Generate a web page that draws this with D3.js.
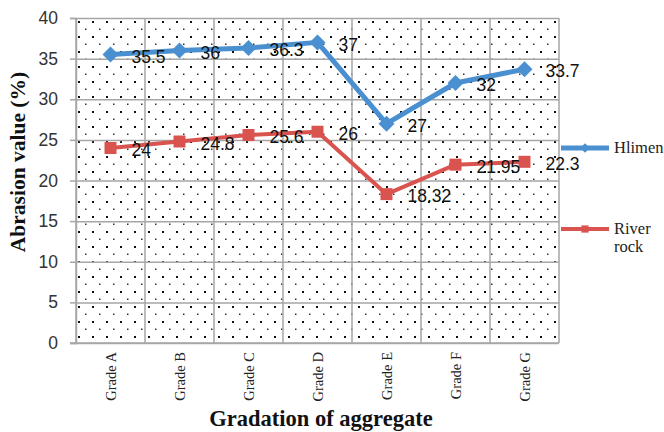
<!DOCTYPE html>
<html>
<head>
<meta charset="utf-8">
<script src="https://cdn.jsdelivr.net/npm/d3@7"></script>
<style>
  html, body { margin: 0; padding: 0; background: #fff; }
  svg { display: block; }
</style>
</head>
<body>
<svg id="chart" width="664" height="432"></svg>
<script>
// Abrasion value by aggregate gradation
const categories = ["Grade A", "Grade B", "Grade C", "Grade D", "Grade E", "Grade F", "Grade G"];
const hlimen = [35.5, 36, 36.3, 37, 27, 32, 33.7];
const riverRock = [24, 24.8, 25.6, 26, 18.32, 21.95, 22.3];
const hlimenLabels = ["35.5", "36", "36.3", "37", "27", "32", "33.7"];
const riverRockLabels = ["24", "24.8", "25.6", "26", "18.32", "21.95", "22.3"];
const yTicks = [0, 5, 10, 15, 20, 25, 30, 35, 40];

const svg = d3.select("#chart");
const plotLeft = 76, plotRight = 559, plotTop = 18, plotBottom = 343;
const serif = "'Liberation Serif', 'Times New Roman', serif";
const sans = "'Liberation Sans', Arial, sans-serif";

const x = d3.scaleBand().domain(categories).range([plotLeft, plotRight]).padding(0);
const y = d3.scaleLinear().domain([0, 40]).range([plotBottom, plotTop]);

// dotted fill pattern for the plot area
const defs = svg.append("defs");
const pat = defs.append("pattern")
  .attr("id", "dots")
  .attr("patternUnits", "userSpaceOnUse")
  .attr("x", plotLeft + 2).attr("y", plotTop + 3)
  .attr("width", 14).attr("height", 15);
pat.append("rect").attr("x", 0).attr("y", 0).attr("width", 14).attr("height", 15).attr("fill", "#fff");
pat.append("rect").attr("x", 0).attr("y", 0).attr("width", 2).attr("height", 2).attr("fill", "#111");
pat.append("rect").attr("x", 7).attr("y", 7.5).attr("width", 1.5).attr("height", 1.5).attr("fill", "#333");

svg.append("rect")
  .attr("x", plotLeft).attr("y", plotTop)
  .attr("width", plotRight - plotLeft).attr("height", plotBottom - plotTop)
  .attr("fill", "url(#dots)");

const gridColor = "#a6a6a6";

// horizontal gridlines
const yGrid = svg.append("g")
  .attr("transform", `translate(${plotLeft},0)`)
  .call(d3.axisLeft(y).tickValues(yTicks).tickSize(-(plotRight - plotLeft)).tickFormat(""));
yGrid.select(".domain").remove();
yGrid.selectAll("line").attr("stroke", gridColor).attr("stroke-width", 1.5);

// vertical gridlines at category boundaries
const bounds = categories.map(c => x(c)).concat([plotRight]);
svg.append("g").selectAll("line").data(bounds).join("line")
  .attr("x1", d => d).attr("x2", d => d)
  .attr("y1", plotTop).attr("y2", plotBottom)
  .attr("stroke", gridColor).attr("stroke-width", 1.5);

// y axis with outside ticks
const yAxis = svg.append("g")
  .attr("transform", `translate(${plotLeft},0)`)
  .call(d3.axisLeft(y).tickValues(yTicks).tickSize(6).tickPadding(12).tickFormat(d3.format("d")));
yAxis.select(".domain").attr("stroke", gridColor).attr("stroke-width", 1.5);
yAxis.selectAll("line").attr("stroke", gridColor).attr("stroke-width", 1.5);
yAxis.selectAll("text")
  .attr("font-family", sans)
  .attr("font-size", 17.5).attr("fill", "#333");

// x axis baseline
svg.append("line")
  .attr("x1", plotLeft - 6).attr("x2", plotRight)
  .attr("y1", plotBottom).attr("y2", plotBottom)
  .attr("stroke", gridColor).attr("stroke-width", 1.5);

// rotated category labels
const xAxis = svg.append("g")
  .attr("transform", `translate(0,${plotBottom})`)
  .call(d3.axisBottom(x).tickSize(0).tickPadding(0));
xAxis.select(".domain").remove();
xAxis.selectAll("text")
  .attr("font-family", serif)
  .attr("font-size", 14.5).attr("fill", "#222")
  .attr("text-anchor", "end")
  .attr("transform", "rotate(-90)")
  .attr("x", -9).attr("y", 0).attr("dy", "0.35em");

const blue = "#4a90d0", red = "#d9534f";
const cx = c => x(c) + x.bandwidth() / 2;

function drawSeries(values, labels, color, width, marker) {
  const pts = values.map((v, i) => [cx(categories[i]), y(v)]);
  svg.append("path")
    .attr("d", d3.line()(pts))
    .attr("fill", "none").attr("stroke", color)
    .attr("stroke-width", width).attr("stroke-linejoin", "round");
  svg.append("g").selectAll("path").data(values).join("path")
    .attr("transform", (v, i) => `translate(${cx(categories[i])},${y(v)})`)
    .attr("d", marker)
    .attr("fill", color);
  svg.append("g").selectAll("text").data(values).join("text")
    .attr("x", (v, i) => cx(categories[i]) + 21)
    .attr("y", v => y(v) + 2)
    .attr("dy", "0.35em")
    .attr("font-family", sans)
    .attr("font-size", 17.5).attr("fill", "#111")
    .text((v, i) => labels[i]);
}

const diamond = "M0,-8L8,0L0,8L-8,0Z";
const square = "M-6,-6H6V6H-6Z";

drawSeries(riverRock, riverRockLabels, red, 4, square);
drawSeries(hlimen, hlimenLabels, blue, 5, diamond);

// legend
const legend = [
  { name: ["Hlimen"], color: blue, width: 5, marker: diamond, y: 148 },
  { name: ["River", "rock"], color: red, width: 4, marker: square, y: 229 }
];
legend.forEach(item => {
  const g = svg.append("g");
  g.append("line")
    .attr("x1", 561).attr("x2", 609)
    .attr("y1", item.y).attr("y2", item.y)
    .attr("stroke", item.color).attr("stroke-width", item.width);
  g.append("path")
    .attr("transform", `translate(585,${item.y}) scale(0.6)`)
    .attr("d", item.marker).attr("fill", item.color);
  item.name.forEach((t, k) => {
    g.append("text")
      .attr("x", 614).attr("y", item.y + 5 + k * 18)
      .attr("font-family", serif)
      .attr("font-size", 16.5).attr("fill", "#222")
      .text(t);
  });
});

// axis titles
svg.append("text")
  .attr("transform", "translate(25,162) rotate(-90)")
  .attr("text-anchor", "middle")
  .attr("font-family", serif)
  .attr("font-weight", "bold").attr("font-size", 21.5).attr("fill", "#111")
  .text("Abrasion value (%)");

svg.append("text")
  .attr("x", 321).attr("y", 426)
  .attr("text-anchor", "middle")
  .attr("font-family", serif)
  .attr("font-weight", "bold").attr("font-size", 22.5).attr("fill", "#111")
  .text("Gradation of aggregate");
</script>
</body>
</html>
